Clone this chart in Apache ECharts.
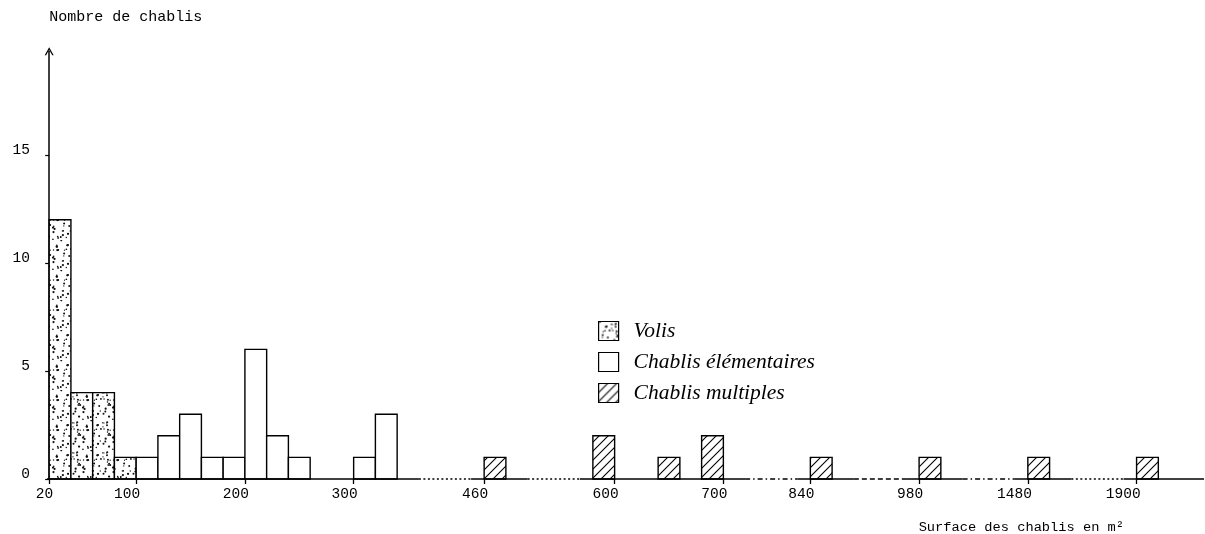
<!DOCTYPE html>
<html>
<head>
<meta charset="utf-8">
<script src="https://cdn.jsdelivr.net/npm/echarts@6/dist/echarts.min.js"></script>
<style>
html,body{margin:0;padding:0;background:#fff;}
#chart{width:1205px;height:534px;}
</style>
</head>
<body>
<div id="chart"></div>
<script>
// ---------------- data ----------------
const binWidth = 20; // m² per class
const volisStart = [20, 40, 60, 80];
const volisCount = [12, 4, 4, 1];
const elemStart = [100, 120, 140, 160, 180, 200, 220, 240, 300, 320];
const elemCount = [1, 2, 3, 1, 1, 6, 2, 1, 1, 3];
const multStart = [460, 580, 640, 680, 840, 980, 1480, 1900];
const multCount = [1, 2, 1, 2, 1, 1, 1, 1];
const xTickLabels = [20, 100, 200, 300, 460, 600, 700, 840, 980, 1480, 1900];
const yTickLabels = [0, 5, 10, 15];
const seriesNames = ['Volis', 'Chablis élémentaires', 'Chablis multiples'];

// ---------------- broken-axis layout (continuous pieces, in class slots) ----------------
const axisPieces = [
  {from: 20, to: 340, slot: 0},
  {from: 460, to: 480, slot: 20},
  {from: 580, to: 700, slot: 25},
  {from: 840, to: 860, slot: 35},
  {from: 980, to: 1000, slot: 40},
  {from: 1480, to: 1500, slot: 45},
  {from: 1900, to: 1920, slot: 50}
];
const gapDash = [[2, 2.5], [2, 2.5], [5, 3, 1.5, 3], [5, 3], [5, 3, 1.5, 3], [2, 2.5]];
const X_MIN = -0.1, X_MAX = 53.1;

function toSlot(v) {
  for (const p of axisPieces) {
    if (v >= p.from && v <= p.to) return p.slot + (v - p.from) / binWidth;
  }
  return NaN;
}

// baseline pieces: solid around each continuous piece, broken style in between
const baseline = [];
axisPieces.forEach((p, i) => {
  const s0 = Math.max(X_MIN, p.slot - 0.6);
  const s1 = i === axisPieces.length - 1 ? X_MAX : toSlot(p.to) + 1;
  baseline.push([s0, s1, 0, -1]);
  if (i < axisPieces.length - 1) {
    const n0 = Math.max(X_MIN, axisPieces[i + 1].slot - 0.6);
    baseline.push([s1, n0, 0, i]);
  }
});

// ---------------- patterns ----------------
function makeDots() {
  const n = 30;
  const c = document.createElement('canvas');
  c.width = c.height = n;
  const g = c.getContext('2d');
  g.fillStyle = '#fff'; g.fillRect(0, 0, n, n);
  g.fillStyle = '#111';
  let s = 12345;
  const r = () => { s = (s * 16807) % 2147483647; return s / 2147483647; };
  for (let i = 0; i < 50; i++) {
    const x = r() * n, y = r() * n, rad = 0.6 + r() * 0.55;
    g.beginPath(); g.arc(x, y, rad, 0, Math.PI * 2); g.fill();
  }
  return c;
}
function makeHatch() {
  const n = 9;
  const c = document.createElement('canvas');
  c.width = c.height = n;
  const g = c.getContext('2d');
  g.fillStyle = '#fff'; g.fillRect(0, 0, n, n);
  g.strokeStyle = '#000'; g.lineWidth = 1.1;
  g.beginPath();
  g.moveTo(-1, n + 1); g.lineTo(n + 1, -1);
  g.moveTo(-1, 1); g.lineTo(1, -1);
  g.moveTo(n - 1, n + 1); g.lineTo(n + 1, n - 1);
  g.stroke();
  return c;
}
const fills = [
  {image: makeDots(), repeat: 'repeat'},
  '#ffffff',
  {image: makeHatch(), repeat: 'repeat'}
];

function barData(starts, counts) {
  return starts.map((s, i) => [toSlot(s), toSlot(s + binWidth), counts[i]]);
}

function barRenderer(fill) {
  return function (params, api) {
    const x0 = api.value(0), x1 = api.value(1), h = api.value(2);
    const a = api.coord([x0, h]);
    const b = api.coord([x1, 0]);
    return {
      type: 'rect',
      shape: {x: a[0], y: a[1], width: b[0] - a[0], height: b[1] - a[1]},
      style: {fill: fill, stroke: '#000', lineWidth: 1.4}
    };
  };
}

const mono = 'Liberation Mono';
const chart = echarts.init(document.getElementById('chart'), null, {renderer: 'canvas'});

const option = {
  animation: false,
  backgroundColor: '#fff',
  grid: {left: 47, right: 1, top: 51.2, bottom: 54.5, containLabel: false},
  legend: {
    data: seriesNames,
    orient: 'vertical',
    left: 593,
    top: 315,
    icon: 'rect',
    itemWidth: 20,
    itemHeight: 19,
    itemGap: 9,
    selectedMode: false,
    itemStyle: {borderColor: '#000', borderWidth: 1.2},
    textStyle: {fontFamily: 'Liberation Serif', fontStyle: 'italic', fontSize: 21.5, color: '#000', padding: [0, 0, 0, 10]}
  },
  xAxis: {
    type: 'value',
    min: X_MIN,
    max: X_MAX,
    name: 'Surface des chablis en m²',
    nameLocation: 'end',
    nameGap: -80,
    nameTextStyle: {fontFamily: mono, fontSize: 13.7, color: '#000', align: 'right', verticalAlign: 'top', padding: [41, 0, 0, 0]},
    axisLine: {show: false},
    axisTick: {show: true, customValues: xTickLabels.map(toSlot), length: 5, lineStyle: {color: '#000', width: 1.3}},
    axisLabel: {
      customValues: xTickLabels.map(toSlot),
      formatter: function (v) {
        for (const t of xTickLabels) if (Math.abs(toSlot(t) - v) < 1e-6) return String(t);
        return '';
      },
      align: 'right',
      padding: [0, -4, 0, 0],
      margin: 8,
      fontFamily: mono, fontSize: 14.5, color: '#000'
    },
    splitLine: {show: false}
  },
  yAxis: {
    type: 'value',
    min: 0,
    max: 19.8,
    name: 'Nombre de chablis',
    nameLocation: 'end',
    nameGap: 34,
    nameTextStyle: {fontFamily: mono, fontSize: 15, color: '#000', align: 'left', verticalAlign: 'middle'},
    axisLine: {
      show: true,
      lineStyle: {color: '#000', width: 1.5},
      symbol: ['none', 'path://M0,9 L5,0 L10,9 L8.4,9 L5,2.8 L1.6,9 Z'],
      symbolSize: [9, 9]
    },
    axisTick: {show: true, customValues: yTickLabels, length: 4, lineStyle: {color: '#000', width: 1.2}},
    axisLabel: {customValues: yTickLabels, margin: 17, fontFamily: mono, fontSize: 14.5, color: '#000', verticalAlign: 'bottom', lineHeight: 10},
    splitLine: {show: false}
  },
  series: [
    {
      name: seriesNames[0], type: 'custom', silent: true,
      itemStyle: {color: fills[0], borderColor: '#000', borderWidth: 1.2},
      encode: {x: [0, 1], y: 2},
      data: barData(volisStart, volisCount),
      renderItem: barRenderer(fills[0])
    },
    {
      name: seriesNames[1], type: 'custom', silent: true,
      itemStyle: {color: fills[1], borderColor: '#000', borderWidth: 1.2},
      encode: {x: [0, 1], y: 2},
      data: barData(elemStart, elemCount),
      renderItem: barRenderer(fills[1])
    },
    {
      name: seriesNames[2], type: 'custom', silent: true,
      itemStyle: {color: fills[2], borderColor: '#000', borderWidth: 1.2},
      encode: {x: [0, 1], y: 2},
      data: barData(multStart, multCount),
      renderItem: barRenderer(fills[2])
    },
    {
      name: 'axe', type: 'custom', silent: true, z: 5,
      encode: {x: [0, 1], y: 2},
      data: baseline,
      renderItem: function (params, api) {
        const a = api.coord([api.value(0), 0]);
        const b = api.coord([api.value(1), 0]);
        const d = api.value(3);
        return {
          type: 'line',
          shape: {x1: a[0], y1: a[1], x2: b[0], y2: b[1]},
          style: {stroke: '#000', lineWidth: 1.6, lineDash: d < 0 ? null : gapDash[d]}
        };
      }
    }
  ]
};
chart.setOption(option);
</script>
</body>
</html>
